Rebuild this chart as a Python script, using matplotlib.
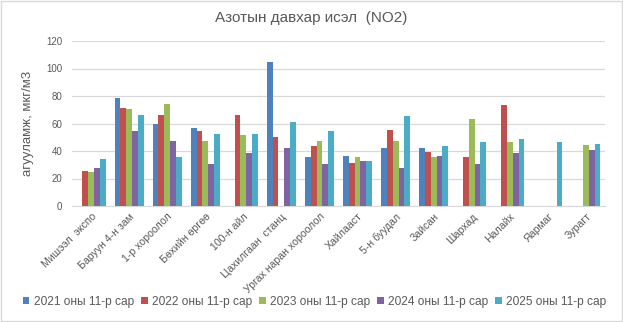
import matplotlib.pyplot as plt
import numpy as np

plt.rcParams['font.family'] = ['Liberation Sans', 'DejaVu Sans']

stations = ["Мишээл  экспо", "Баруун 4-н зам", "1-р хороолол", "Бөхийн өргөө",
            "100-н айл", "Цахилгаан  станц", "Ургах наран хороолол", "Хайлааст",
            "5-н буудал", "Зайсан", "Шархад", "Налайх", "Яармаг", "Зурагт"]
series_names = ["2021 оны 11-р сар", "2022 оны 11-р сар", "2023 оны 11-р сар",
                "2024 оны 11-р сар", "2025 оны 11-р сар"]
nan = np.nan
no2_2021 = [nan, 78.5, 59.6, 56.7, nan, 104.7, 35.6, 36.4, 42.2, 42.2, nan, nan, nan, nan]
no2_2022 = [25.5, 71.3, 66.2, 54.5, 66.2, 50.2, 43.6, 31.3, 55.3, 39.3, 35.6, 73.5, nan, nan]
no2_2023 = [24.7, 70.5, 74.2, 47.3, 51.6, nan, 47.3, 35.6, 47.3, 35.6, 63.3, 46.5, nan, 44.4]
no2_2024 = [27.6, 54.5, 47.3, 30.5, 38.5, 42.2, 30.5, 32.7, 27.6, 36.4, 30.5, 38.5, nan, 40.7]
no2_2025 = [34.2, 66.2, 35.6, 52.4, 52.4, 61.1, 54.5, 32.7, 65.5, 43.6, 46.5, 48.7, 46.5, 45.1]
colors = ["#4F81BD", "#C0504D", "#9BBB59", "#8064A2", "#4BACC6"]

text_gray = "#595959"
grid_gray = "#D9D9D9"

fig = plt.figure(figsize=(6.23, 3.22), dpi=100)
ax = fig.add_axes([72 / 623, 1 - 206 / 322, 533 / 623, 165 / 322])

x = np.arange(len(stations))
bar_w = 0.152
all_series = [no2_2021, no2_2022, no2_2023, no2_2024, no2_2025]
for i, (vals, name, c) in enumerate(zip(all_series, series_names, colors)):
    ax.bar(x + (i - 2) * bar_w, vals, width=bar_w, color=c, label=name, zorder=3)

ax.set_xlim(-0.5, len(stations) - 0.5)
ax.set_ylim(0, 120)
ax.set_yticks(range(0, 121, 20))
ax.grid(axis='y', color=grid_gray, linewidth=0.9, zorder=0)
for s in ["top", "right", "left"]:
    ax.spines[s].set_visible(False)
ax.spines["bottom"].set_color(grid_gray)
ax.tick_params(axis='both', length=0, colors=text_gray, labelsize=7)
ax.tick_params(axis='y', pad=7)
ax.tick_params(axis='x', pad=4, labelsize=7.6)
ax.set_xticks(x)
ax.set_xticklabels(stations, rotation=45, ha='right', rotation_mode='anchor')
ax.set_ylabel("агууламж, мкг/м3", color=text_gray, fontsize=9.5, labelpad=9)

fig.text(0.5, 1 - 18 / 322, "Азотын давхар исэл  (NO2)", ha='center', va='center',
         color=text_gray, fontsize=11)

handles, labels = ax.get_legend_handles_labels()
fig.legend(handles, labels, loc='center', bbox_to_anchor=(0.505, 1 - 302 / 322),
           ncol=5, frameon=False, fontsize=8.6, labelcolor=text_gray,
           handlelength=0.55, handleheight=0.55, handletextpad=0.35, columnspacing=0.6)

border = plt.Rectangle((0.002, 0.003), 0.996, 0.994, transform=fig.transFigure,
                       fill=False, edgecolor="#D9D9D9", linewidth=1)
fig.patches.append(border)

fig.savefig("out.png", dpi=100)
